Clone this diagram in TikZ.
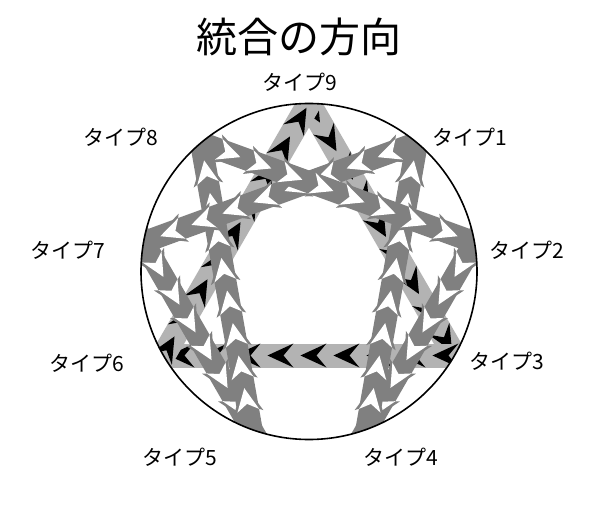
\documentclass[tikz,border=0pt]{standalone}
\usepackage{fontspec}
\setmainfont{Noto Sans CJK JP}
\usetikzlibrary{calc,decorations.markings}
\definecolor{tri}{HTML}{B3B3B3}
\definecolor{hex}{HTML}{808080}
\newcommand{\hexmark}{%
  \fill[hex] (17pt,0) -- (-13pt,15pt) -- (-5pt,0) -- (-13pt,-15pt) -- cycle;
  \fill[white] (12pt,0) -- (-11pt,11pt) -- (-4pt,0) -- (-11pt,-11pt) -- cycle;}
\tikzset{
  triband/.style={line width=24pt, draw=tri, postaction={decorate},
    decoration={markings, mark=between positions 24pt and -12pt step 33pt with
      {\fill[black] (14pt,0) -- (-12pt,12pt) -- (-2pt,0) -- (-12pt,-12pt) -- cycle;}}},
  hexlong/.style={line width=22pt, draw=hex, postaction={decorate},
    decoration={markings, mark=between positions 0.142 and 0.862 step 0.1023 with {\hexmark}}},
  hexshort/.style={line width=22pt, draw=hex, postaction={decorate},
    decoration={markings, mark=between positions 0.177 and 0.83 step 0.1292 with {\hexmark}}},
  lbl/.style={inner sep=0pt, font=\fontsize{21}{25}\selectfont},
  ttl/.style={inner sep=0pt, font=\fontsize{41}{48}\selectfont},
  ring/.style={draw=black, line width=1.6pt}
}
\newcommand{\myband}[3]{\draw[#1] ($(#2)!-16pt!(#3)$) -- ($(#3)!-16pt!(#2)$);}
\begin{document}
\begin{tikzpicture}[x=1pt,y=1pt]
\useasboundingbox (0,0) rectangle (605,520);
\fill[white] (0,0) rectangle (605,520);
\coordinate (c) at (309,248.5);
\foreach \k/\a in {9/90,1/50,2/10,3/-30,4/-70,5/-110,6/-150,7/170,8/130}{
  \coordinate (v\k) at ($(c)+(\a:168)$);
}
\begin{scope}
  \clip (c) circle (168);
  \myband{triband}{v9}{v3}
  \myband{triband}{v3}{v6}
  \myband{triband}{v6}{v9}
  \myband{hexshort}{v7}{v5}
  \myband{hexlong}{v5}{v8}
  \myband{hexshort}{v2}{v4}
  \myband{hexlong}{v4}{v1}
  \myband{hexlong}{v1}{v7}
  \myband{hexlong}{v8}{v2}
\end{scope}
\draw[ring] (c) circle (168);
\node[ttl] (title) at (299,483) {統合の方向};
\node[lbl] (t9) at (300,438) {タイプ9};
\node[lbl] (t1) at (470,383) {タイプ1};
\node[lbl] (t2) at (527,270) {タイプ2};
\node[lbl] (t3) at (507,159) {タイプ3};
\node[lbl] (t4) at (401,63) {タイプ4};
\node[lbl] (t5) at (180,63) {タイプ5};
\node[lbl] (t6) at (86.5,157) {タイプ6};
\node[lbl] (t7) at (68,270) {タイプ7};
\node[lbl] (t8) at (121,383) {タイプ8};
\end{tikzpicture}
\end{document}
